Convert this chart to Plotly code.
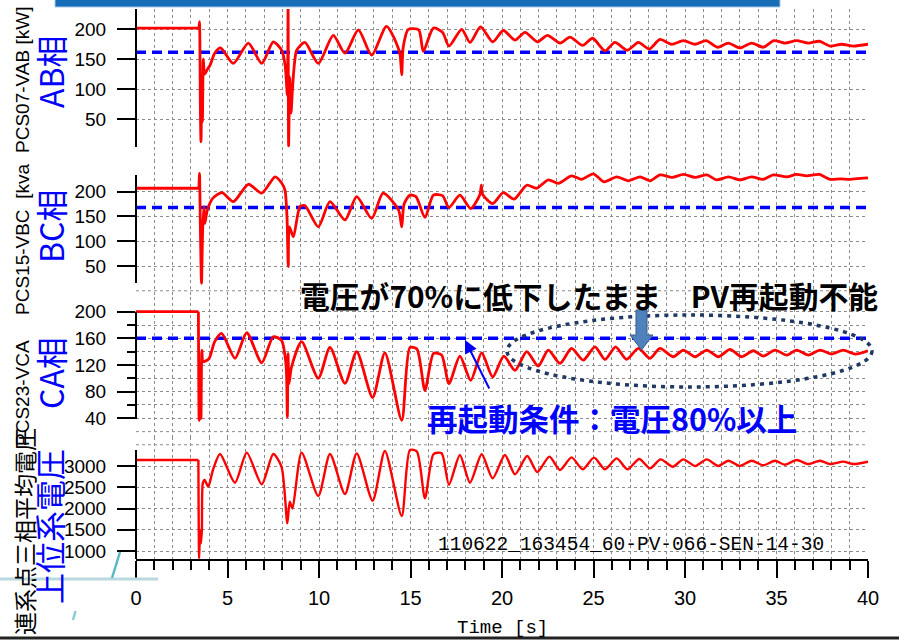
import plotly.graph_objects as go

# ---------------- data ----------------
# AB phase (PCS07-VAB)
T_AB = [0, 3.44, 3.47, 3.52, 3.55, 3.60, 3.63, 3.68, 3.75, 3.90, 4.05, 4.30, 4.62,
        5.32, 6.14, 6.87, 7.50, 7.96, 8.15, 8.27, 8.31, 8.34, 8.40, 8.47, 8.55, 8.65,
        8.78, 9.23, 9.96, 10.78, 11.42, 12.15, 12.88, 13.69, 14.40, 14.52, 14.60,
        14.88, 15.45, 15.70, 16.25, 16.75, 17.10, 17.80, 18.25, 18.83, 19.49, 20.07,
        20.71, 21.26, 21.93, 22.48, 23.17, 23.72, 24.41, 24.95, 25.63, 26.17, 26.85,
        27.45, 28.05, 28.63, 29.27, 29.91, 30.55, 31.15, 31.77, 32.37, 33.00, 33.64,
        34.28, 34.86, 35.46, 36.10, 36.74, 37.34, 37.92, 38.56, 39.20, 40.0]
V_AB = [202, 202, 213, 60, 12, 110, 45, 150, 125, 133, 140, 160, 169,
        143, 177, 143, 179, 165, 140, 90, 240, 5, 120, 60, 100, 140,
        165, 178, 143, 190, 160, 199, 157, 205, 162, 124, 170,
        200, 199, 163, 202, 195, 172, 200, 178, 204, 179, 198,
        182, 195, 179, 190, 177, 187, 173, 185, 164, 178, 165,
        178, 167, 183, 175, 181, 175, 181, 170, 177, 169, 177,
        170, 181, 177, 181, 177, 180, 172, 175, 172, 175]

# BC phase (PCS15-VBC)
T_BC = [0, 3.44, 3.47, 3.52, 3.58, 3.64, 3.71, 3.76, 3.90, 4.20, 4.70, 5.32, 6.14,
        6.87, 7.60, 7.95, 8.14, 8.25, 8.32, 8.38, 8.60, 8.96, 9.23, 9.96, 10.60,
        11.42, 12.06, 12.88, 13.50, 14.35, 14.52, 14.65, 14.97, 15.30, 15.79, 16.25,
        16.75, 17.10, 17.70, 18.29, 18.80, 18.87, 18.93, 19.49, 20.07, 20.66, 21.35,
        21.90, 22.53, 23.08, 23.80, 24.35, 24.99, 25.57, 26.27, 26.90, 27.54, 28.09,
        28.63, 29.30, 29.91, 30.55, 31.19, 31.73, 32.37, 33.00, 33.64, 34.28, 34.83,
        35.56, 36.10, 36.65, 37.34, 37.92, 38.50, 39.00, 39.60, 40.0]
V_BC = [207, 207, 237, 120, 15, 120, 170, 136, 163, 187, 198, 180, 215,
        197, 230, 218, 203, 150, 49, 129, 109, 170, 172, 129, 180,
        143, 190, 146, 197, 163, 129, 175, 193, 190, 148, 193,
        192, 168, 193, 166, 195, 213, 195, 176, 198, 185, 213,
        207, 224, 217, 232, 225, 236, 220, 230, 222, 230, 222,
        234, 229, 235, 229, 234, 224, 230, 224, 230, 225, 234,
        230, 235, 232, 235, 225, 226, 225, 227, 228]

# CA phase (PCS23-VCA)
T_CA = [0, 3.41, 3.45, 3.50, 3.55, 3.60, 3.66, 3.80, 4.00, 4.30, 4.68, 5.41, 6.05,
        6.87, 7.50, 7.95, 8.20, 8.27, 8.31, 8.36, 8.50, 9.05, 9.96, 10.60, 11.42,
        12.06, 12.93, 13.60, 14.52, 14.97, 15.35, 15.79, 16.26, 16.70, 17.10, 17.70,
        18.29, 18.89, 19.49, 20.10, 20.71, 21.35, 21.98, 22.53, 23.17, 23.80, 24.44,
        25.08, 25.63, 26.21, 26.81, 27.45, 28.09, 28.63, 29.36, 29.91, 30.55, 31.19,
        31.82, 32.46, 33.10, 33.73, 34.28, 34.92, 35.56, 36.10, 36.74, 37.38, 38.01,
        38.65, 39.29, 40.0]
V_CA = [200, 200, 37, 120, 40, 142, 125, 126, 130, 155, 167.5, 130, 168.4,
        123.3, 162.4, 157, 120, 42, 137, 92, 117, 155, 100, 146.4, 92.3,
        140, 71.2, 138.3, 37, 146.4, 144, 82, 137.4, 135, 92, 133.3,
        97, 138.3, 102, 133.3, 112, 140, 118.3, 142.4, 122.4, 144.9, 127.3,
        147.3, 128.4, 147.3, 128.4, 144.9, 130, 144.9, 132.4, 142.4, 132.4, 142.4,
        132.4, 143.4, 132.4, 141.4, 133.4, 142.4, 134.9, 142.4, 134.9, 142.4, 136.4,
        142.4, 136.4, 141.4]

# upper-grid voltage (3-phase average at the interconnection point)
T_GRID = [0, 3.41, 3.45, 3.50, 3.55, 3.60, 3.65, 3.75, 3.95, 4.20, 4.59, 5.41, 6.05,
          6.87, 7.50, 7.95, 8.27, 8.40, 8.55, 9.05, 9.96, 10.60, 11.42, 12.06, 12.93,
          13.60, 14.52, 14.97, 15.35, 15.79, 16.26, 16.70, 17.10, 17.70, 18.25, 18.89,
          19.49, 20.16, 20.71, 21.38, 21.93, 22.59, 23.17, 23.80, 24.41, 25.03, 25.63,
          26.27, 26.85, 27.50, 28.09, 28.67, 29.33, 29.91, 30.55, 31.19, 31.82, 32.37,
          33.00, 33.64, 34.28, 34.92, 35.46, 36.10, 36.74, 37.38, 37.92, 38.65, 39.20,
          40.0]
V_GRID = [3140, 3140, 830, 1490, 1180, 1500, 2590, 2670, 2514, 2900, 3282, 2608, 3314,
          2569, 3282, 2984, 1651, 2161, 2000, 3314, 2294, 3282, 2341, 3298, 2184,
          3353, 1824, 3376, 3340, 2239, 3282, 3300, 2560, 3259, 2608, 3275,
          2710, 3259, 2804, 3235, 2859, 3220, 2906, 3204, 2922, 3196, 2922,
          3180, 2922, 3165, 2945, 3157, 2984, 3157, 3000, 3157, 3000, 3125,
          3000, 3125, 3016, 3125, 3031, 3141, 3047, 3125, 3047, 3102, 3047,
          3102]

THRESH_AB = 161.5
THRESH_BC = 168
THRESH_CA = 160

X_TICKS = [0, 5, 10, 15, 20, 25, 30, 35, 40]
Y_TICKS_AB = [50, 100, 150, 200]
Y_TICKS_BC = [50, 100, 150, 200]
Y_TICKS_CA = [40, 80, 120, 160, 200]
Y_MINOR_CA = [60, 100, 140, 180]
Y_TICKS_GRID = [1000, 1500, 2000, 2500, 3000]

# ---------------- layout geometry ----------------
W, H = 899, 641
ML, MR, MT, MB = 136, 31, 9, 82
PW = W - ML - MR
PH = H - MT - MB
BOT = H - MB


def px_x(px):
    return (px - ML) / PW


def px_y(py):
    return (BOT - py) / PH


def rng(va, pa, vb, pb, top, bot):
    s = (vb - va) / (pb - pa)
    return [va + (bot - pa) * s, va + (top - pa) * s]


D1 = [px_y(160), 1.0]
D2 = [px_y(297), px_y(160)]
D3 = [px_y(437), px_y(297)]
D4 = [0.0, px_y(437)]
R1 = rng(200, 29.3, 50, 119.0, MT, 160)
R2 = rng(200, 191.7, 50, 266.0, 160, 297)
R3 = rng(200, 311.7, 40, 418.3, 297, 437)
R4 = rng(3000, 466.0, 1000, 551.0, 437, BOT)

GRID = "#8c8c8c"
TICKF = dict(family="Liberation Sans, Arial, sans-serif", size=19, color="black")
RED = "#ff0000"
BLUE = "#0000ff"

fig = go.Figure()

# threshold (restart condition) lines
for th, ya in [(THRESH_AB, "y"), (THRESH_BC, "y2"), (THRESH_CA, "y3")]:
    fig.add_trace(go.Scatter(x=[X_TICKS[0], X_TICKS[-1]], y=[th, th], mode="lines",
                             xaxis="x", yaxis=ya,
                             line=dict(color=BLUE, width=3.5, dash="10px,6px"),
                             hoverinfo="skip"))

for tt, vv, ya, w in [(T_AB, V_AB, "y", 2.8), (T_BC, V_BC, "y2", 2.8),
                      (T_CA, V_CA, "y3", 2.8), (T_GRID, V_GRID, "y4", 2.4)]:
    # pre-fault steady part: straight
    fig.add_trace(go.Scatter(x=tt[:2], y=vv[:2], mode="lines", xaxis="x", yaxis=ya,
                             line=dict(color=RED, width=w), hoverinfo="skip"))
    # post-fault oscillation: smoothed through the read extrema
    fig.add_trace(go.Scatter(x=tt[1:], y=vv[1:], mode="lines", xaxis="x", yaxis=ya,
                             line=dict(color=RED, width=w, shape="spline", smoothing=0.7),
                             hoverinfo="skip"))


def yax(domain, r, tickvals, minor=None):
    d = dict(domain=domain, range=r, tickmode="array", tickvals=tickvals,
             ticks="outside", ticklen=18, tickwidth=2, tickcolor="black",
             showline=False, zeroline=False, showgrid=True, gridcolor=GRID,
             gridwidth=1, griddash="dot", tickfont=TICKF, anchor="x",
             ticklabelstandoff=7, automargin=False, fixedrange=True)
    if minor is not None:
        d["minor"] = minor
    return d


fig.update_layout(
    width=W, height=H,
    margin=dict(l=ML, r=MR, t=MT, b=MB, pad=0),
    paper_bgcolor="white", plot_bgcolor="white",
    showlegend=False,
    xaxis=dict(domain=[0, 1], range=[0, 40], anchor="y4", tickmode="array",
               tickvals=X_TICKS, ticks="outside", ticklen=17, tickwidth=2,
               tickcolor="black", showline=True, linecolor="black", linewidth=2,
               zeroline=False, showgrid=True, gridcolor=GRID, gridwidth=1,
               griddash="dot", ticklabelstandoff=3,
               tickfont=dict(family="Liberation Sans, Arial, sans-serif", size=20,
                             color="black"),
               minor=dict(dtick=1, tick0=0, ticks="outside", ticklen=9, tickwidth=2,
                          tickcolor="black", showgrid=True, gridcolor=GRID,
                          griddash="dot", gridwidth=1),
               automargin=False, fixedrange=True),
    yaxis=yax(D1, R1, Y_TICKS_AB),
    yaxis2=yax(D2, R2, Y_TICKS_BC),
    yaxis3=yax(D3, R3, Y_TICKS_CA,
               minor=dict(tickmode="array", tickvals=Y_MINOR_CA, ticks="outside",
                          ticklen=8, tickwidth=2, tickcolor="black", showgrid=True,
                          gridcolor=GRID, griddash="dot", gridwidth=1)),
    yaxis4=yax(D4, R4, Y_TICKS_GRID),
)

shapes = []
# extra grid lines outside tick values
for val, ya in [(0, "y2"), (20, "y3"), (3500, "y4")]:
    shapes.append(dict(type="line", xref="x", yref=ya, x0=0, x1=40, y0=val, y1=val,
                       line=dict(color=GRID, width=1, dash="dot"), layer="below"))
# visible vertical axis lines of each panel
for top, bot in [(MT, 147), (175, 283), (311.7, 419), (450, BOT)]:
    shapes.append(dict(type="line", xref="paper", yref="paper", x0=0, x1=0,
                       y0=px_y(bot), y1=px_y(top), line=dict(color="black", width=2)))
# blue banner at the very top
shapes.append(dict(type="rect", xref="paper", yref="paper", x0=px_x(55), x1=px_x(780),
                   y0=px_y(7), y1=px_y(-10), fillcolor="#176db6",
                   line=dict(color="#a8c8e8", width=1)))
# dotted ellipse
shapes.append(dict(type="circle", xref="paper", yref="paper", x0=px_x(507), x1=px_x(872),
                   y0=px_y(387), y1=px_y(315),
                   line=dict(color="#1f3864", width=3.5, dash="4px,5px")))
# block down arrow
pts = [(636, 310), (647, 310), (647, 335), (653, 335), (641.5, 350), (630, 335), (636, 335)]
path = "M " + " L ".join(f"{px_x(a):.5f},{px_y(b):.5f}" for a, b in pts) + " Z"
shapes.append(dict(type="path", xref="paper", yref="paper", path=path,
                   fillcolor="#4f81bd", line=dict(color="#385d8a", width=1)))
# bottom border line
shapes.append(dict(type="line", xref="paper", yref="paper", x0=px_x(0), x1=px_x(899),
                   y0=px_y(638), y1=px_y(638), line=dict(color="#222222", width=3)))
# faint image fragments at lower left
shapes.append(dict(type="line", xref="paper", yref="paper", x0=px_x(0), x1=px_x(158),
                   y0=px_y(579), y1=px_y(579), line=dict(color="#b9d9de", width=3)))
shapes.append(dict(type="line", xref="paper", yref="paper", x0=px_x(120), x1=px_x(112),
                   y0=px_y(552), y1=px_y(578), line=dict(color="#5cb8c4", width=2.5)))
shapes.append(dict(type="line", xref="paper", yref="paper", x0=px_x(75.5), x1=px_x(73),
                   y0=px_y(611), y1=px_y(620), line=dict(color="#8cccd4", width=2.5)))
fig.update_layout(shapes=shapes)

CJK = "Noto Sans CJK JP, sans-serif"
ann = []


def label(text, px, py, size, color, family, angle=-90, xanchor="center", bold=False):
    t = f"<b>{text}</b>" if bold else text
    ann.append(dict(text=t, x=px_x(px), y=px_y(py), xref="paper", yref="paper",
                    showarrow=False, textangle=angle, xanchor=xanchor, yanchor="middle",
                    font=dict(family=family, size=size, color=color)))


SANS = "Liberation Sans, Arial, sans-serif"
MONO = "Liberation Mono, DejaVu Sans Mono, monospace"
label("PCS07-VAB [kW]", 22, 80, 19, "black", SANS)
label("PCS15-VBC  [kva", 22, 240, 19, "black", SANS)
label("PCS23-VCA", 22, 393, 19, "black", SANS)
label("連系点三相平均電圧", 24, 532, 23, "black", CJK)
label("AB相", 50, 72, 32, BLUE, CJK)
label("BC相", 50, 227, 32, BLUE, CJK)
label("CA相", 50, 373, 32, BLUE, CJK)
label("上位系電圧", 48, 527, 31, BLUE, CJK)
label("電圧が70%に低下したまま　PV再起動不能", 298, 295, 29.8, "black", CJK, angle=0,
      xanchor="left", bold=True)
label("再起動条件：電圧80%以上", 425, 418, 30.5, BLUE, CJK, angle=0, xanchor="left",
      bold=True)
label("110622_163454_60-PV-066-SEN-14-30", 436, 545, 19.5, "black", MONO, angle=0,
      xanchor="left")
label("Time [s]", 455, 628, 19, "black", MONO, angle=0, xanchor="left")

# thin blue arrow pointing at the restart threshold
ann.append(dict(text="", x=px_x(465), y=px_y(340), xref="paper", yref="paper",
                ax=25, ay=50, axref="pixel", ayref="pixel", showarrow=True,
                arrowhead=2, arrowsize=1.3, arrowwidth=2, arrowcolor=BLUE))
fig.update_layout(annotations=ann)

fig.write_html("out.html")
